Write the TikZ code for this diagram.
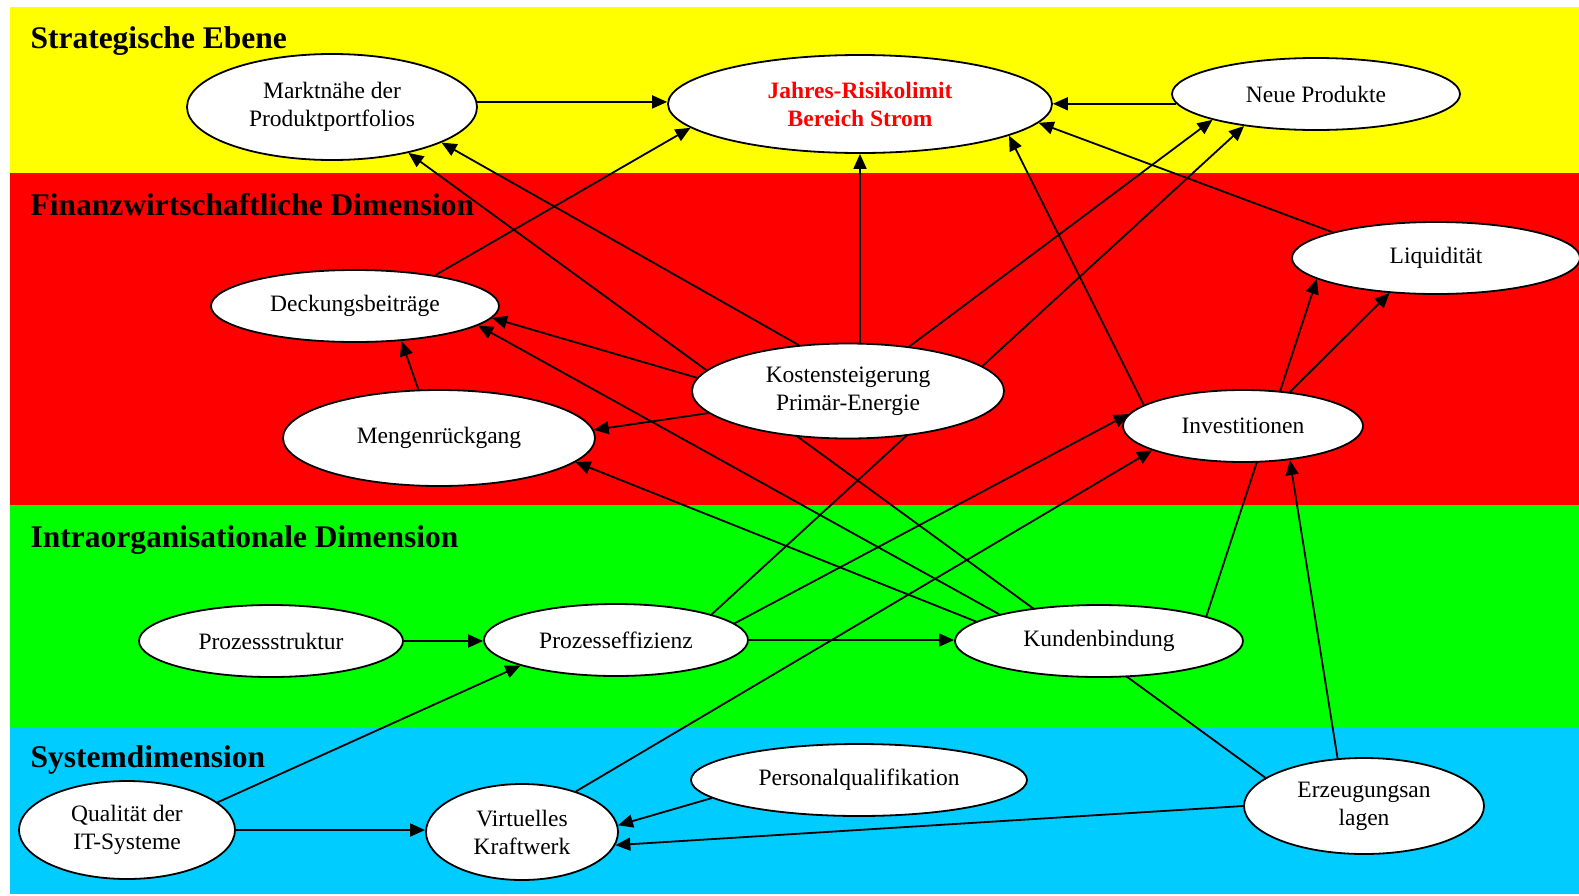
\documentclass[tikz,border=0pt]{standalone}
\usepackage{fontspec}
\setmainfont{Liberation Serif}
\usetikzlibrary{shapes.geometric,arrows.meta}

\definecolor{ebgelb}{HTML}{FFFF00}
\definecolor{ebrot}{HTML}{FF0000}
\definecolor{ebgruen}{HTML}{00FF00}
\definecolor{ebblau}{HTML}{00CCFF}

\newcommand{\knotenschrift}{\fontsize{23.5}{28}\selectfont}
\newcommand{\ebenenschrift}{\fontsize{31.5}{36}\selectfont\bfseries}

\pgfdeclarelayer{bg}
\pgfdeclarelayer{kanten}
\pgfsetlayers{bg,kanten,main}

\begin{document}
\begin{tikzpicture}[x=1pt, y=-1pt,
    knoten/.style={ellipse, draw, fill=white, line width=1.8pt, inner sep=0pt, align=center, font=\knotenschrift},
    pfeil/.style={-{Triangle[length=15pt,width=13pt]}, line width=1.8pt},
    ebene/.style={anchor=base west, font=\ebenenschrift}]
    \useasboundingbox (0,0) rectangle (1579,895);

    \begin{pgfonlayer}{bg}
      \fill[white] (0,0) rectangle (1579,895);
      \foreach \farbe/\oben/\unten in {ebgelb/7/173, ebrot/173/505, ebgruen/505/727, ebblau/727/894}
        \fill[\farbe] (10,\oben) rectangle (1579,\unten);
    \end{pgfonlayer}

    \node[ebene] (strat) at (27,48) {Strategische Ebene};
    \node[ebene] (finanz) at (27,215) {Finanzwirtschaftliche Dimension};
    \node[ebene] (intra) at (27,547) {Intraorganisationale Dimension};
    \node[ebene] (system) at (27,767) {Systemdimension};

    % Strategische Ebene
    \node[knoten, minimum width=290, minimum height=106] (markt) at (332,107) {Marktnähe der\\Produktportfolios};
    \node[knoten, minimum width=384, minimum height=98, text=ebrot, font=\knotenschrift\bfseries] (jahres) at (860,104) {Jahres-Risikolimit\\Bereich Strom};
    \node[knoten, minimum width=288, minimum height=72] (neue) at (1316,94) {Neue Produkte};

    % Finanzwirtschaftliche Dimension
    \node[knoten, minimum width=288, minimum height=72] (deck) at (355,306) {Deckungsbeiträge};
    \node[knoten, minimum width=288, minimum height=72] (liqu) at (1436,258) {Liquidität};
    \node[knoten, minimum width=312, minimum height=95] (kosten) at (848,391) {Kostensteigerung\\Primär-Energie};
    \node[knoten, minimum width=312, minimum height=96] (mengen) at (439,438) {Mengenrückgang};
    \node[knoten, minimum width=240, minimum height=72] (invest) at (1243,426) {Investitionen};

    % Intraorganisationale Dimension
    \node[knoten, minimum width=264, minimum height=72] (struktur) at (271,641) {Prozessstruktur};
    \node[knoten, minimum width=264, minimum height=72] (proz) at (616,640) {Prozesseffizienz};
    \node[knoten, minimum width=288, minimum height=72] (kund) at (1099,641) {Kundenbindung};

    % Systemdimension
    \node[knoten, minimum width=336, minimum height=72] (pers) at (859,780) {Personalqualifikation};
    \node[knoten, minimum width=216, minimum height=98] (qual) at (127,830) {Qualität der\\IT-Systeme};
    \node[knoten, minimum width=192, minimum height=96] (virt) at (522,832) {Virtuelles\\Kraftwerk};
    \node[knoten, minimum width=240, minimum height=96] (erzeug) at (1364,806) {Erzeugungsan\\lagen};

    \begin{pgfonlayer}{kanten}
      \draw[pfeil] (markt.2) -- (markt.2 -| jahres.west);
      \draw[pfeil] (neue.184) -- (neue.184 -| jahres.east);
      \draw[pfeil] (deck.21) -- (jahres.188);
      \draw[pfeil] (jahres.south |- kosten.north) -- (jahres.south);
      \draw[pfeil] (invest.168) -- (jahres.348);
      \draw[pfeil] (liqu.166) -- (jahres.354);
      \draw[pfeil] (kosten.137) -- (markt.342);
      \draw[pfeil] (erzeug.164) -- (markt.329);
      \draw[pfeil] (kosten.36) -- (neue.194);
      \draw[pfeil] (proz.15) -- (neue.204);
      \draw[pfeil] (kosten.175) -- (deck.355);
      \draw[pfeil] (kund.165) -- (deck.351);
      \draw[pfeil] (mengen.113) -- (deck.323);
      \draw[pfeil] (kosten.189) -- (mengen.3);
      \draw[pfeil] (kund.171) -- (mengen.350);
      \draw[pfeil] (invest.36) -- (liqu.217);
      \draw[pfeil] (kund.13) -- (liqu.190);
      \draw[pfeil] (proz.8) -- (invest.174);
      \draw[pfeil] (virt.37) -- (invest.195);
      \draw[pfeil] (erzeug.119) -- (invest.324);
      \draw[pfeil] (struktur.east) -- (struktur.east -| proz.west);
      \draw[pfeil] (proz.east) -- (proz.east -| kund.west);
      \draw[pfeil] (qual.17) -- (proz.195);
      \draw[pfeil] (qual.east) -- (qual.east -| virt.west);
      \draw[pfeil] (pers.187) -- (virt.4);
      \draw[pfeil] (erzeug.west) -- (virt.352);
    \end{pgfonlayer}
\end{tikzpicture}
\end{document}
